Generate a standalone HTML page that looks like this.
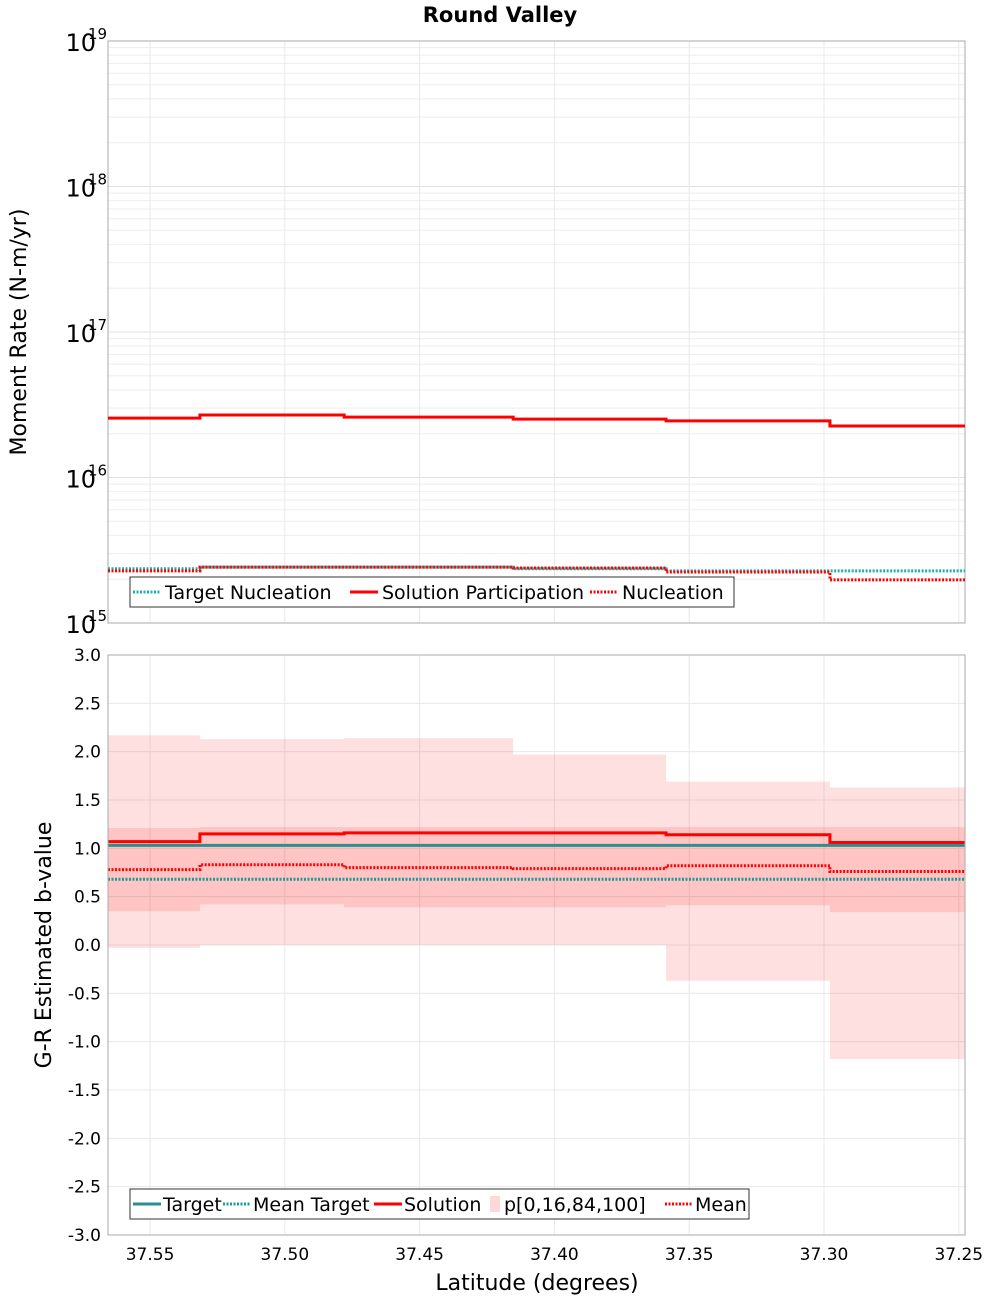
<!DOCTYPE html>
<html><head><meta charset="utf-8"><style>
body{margin:0;background:#fff;font-family:"Liberation Sans","DejaVu Sans",sans-serif}
svg text{font-family:"DejaVu Sans","Liberation Sans",sans-serif}
</style></head><body>
<svg id="c" width="1000" height="1300" xmlns="http://www.w3.org/2000/svg">
<text x="500" y="22" text-anchor="middle" font-size="21" font-weight="bold">Round Valley</text>
<g id="topPanel"></g>
<g id="botPanel"></g>
</svg>
<script>
const binEdges=[37.5656,37.5315,37.478,37.4153,37.3586,37.2978,37.2477];
const xTicks=[37.55,37.50,37.45,37.40,37.35,37.30,37.25];
const solPart=[2.56e16,2.69e16,2.6e16,2.52e16,2.45e16,2.26e16];
const nucl=[2.28e15,2.42e15,2.42e15,2.39e15,2.24e15,1.98e15];
const targetNucl=[2.36e15,2.42e15,2.42e15,2.36e15,2.28e15,2.28e15];
const pMin=[-0.03,0.0,0.0,0.0,-0.37,-1.18];
const p16=[0.35,0.42,0.39,0.39,0.41,0.34];
const p84=[1.21,1.22,1.22,1.22,1.22,1.22];
const pMax=[2.17,2.13,2.14,1.97,1.69,1.63];
const solB=[1.07,1.15,1.16,1.16,1.14,1.06];
const meanB=[0.78,0.83,0.80,0.79,0.82,0.76];
const targetB=[1.03,1.03,1.03,1.03,1.03,1.03];
const meanTargetB=[0.68,0.68,0.68,0.68,0.68,0.68];
const bTicks=[3.0,2.5,2.0,1.5,1.0,0.5,0.0,-0.5,-1.0,-1.5,-2.0,-2.5,-3.0];

const NS="http://www.w3.org/2000/svg";
const L=108,R=965;
const X=v=>L+(37.5656-v)/(37.5656-37.2477)*(R-L);
const T0=41,T1=623,YT=v=>T1-(Math.log10(v)-15)/4*(T1-T0);
const B0=655,B1=1235,YB=v=>B0+(3-v)/6*(B1-B0);
function mk(p,tag,a,txt){const e=document.createElementNS(NS,tag);for(const k in a)e.setAttribute(k,a[k]);if(txt!==undefined)e.textContent=txt;p.appendChild(e);return e;}
const gTop=document.getElementById('topPanel'),gBot=document.getElementById('botPanel');
function step(g,vals,Y,color,w,dash,name){
  let d='';for(let i=0;i<vals.length;i++){const y=Y(vals[i]);d+=(i?'L':'M')+X(binEdges[i])+','+y+'L'+X(binEdges[i+1])+','+y;}
  const p=mk(g,'path',{d:d,fill:'none',stroke:color,'stroke-width':w});
  if(dash)p.setAttribute('stroke-dasharray',dash);
  
  
}
for(let e=15;e<19;e++)for(let m=2;m<10;m++){const y=YT(m*Math.pow(10,e));mk(gTop,'line',{x1:L,x2:R,y1:y,y2:y,stroke:'#eee','stroke-width':1});}
for(let e=15;e<=19;e++){const y=YT(Math.pow(10,e));mk(gTop,'line',{x1:L,x2:R,y1:y,y2:y,stroke:'#e0e0e0','stroke-width':1});
  const t=mk(gTop,'text',{x:96,y:y+10,'text-anchor':'end','font-size':24},'10');
  
  
  mk(gTop,'text',{x:88,y:y-2,'font-size':15},String(e));}
xTicks.forEach(v=>{mk(gTop,'line',{x1:X(v),x2:X(v),y1:T0,y2:T1,stroke:'#e8e8e8'});mk(gBot,'line',{x1:X(v),x2:X(v),y1:B0,y2:B1,stroke:'#e8e8e8'});});
mk(gTop,'rect',{x:L,y:T0,width:R-L,height:T1-T0,fill:'none',stroke:'#aaa'});
const yl=mk(gTop,'text',{x:26,y:332,'text-anchor':'middle','font-size':22,transform:'rotate(-90 26 332)'},'Moment Rate (N-m/yr)');


step(gTop,targetNucl,YT,'#19b2b2',3,'2,1.5','series-target-nucleation');
step(gTop,solPart,YT,'#f00',3,null,'series-solution-participation');
step(gTop,nucl,YT,'#f00',3,'2,1.5','series-nucleation');
const lg=mk(gTop,'g',{});


mk(lg,'rect',{x:130,y:577,width:604,height:30,fill:'#fff',stroke:'#333'});
[[133,'#19b2b2','2,1.5','Target Nucleation'],[350,'#f00',null,'Solution Participation'],[590,'#f00','2,1.5','Nucleation']].forEach(([x,c,d,t])=>{
  const l=mk(lg,'line',{x1:x,x2:x+28,y1:592,y2:592,stroke:c,'stroke-width':3});if(d)l.setAttribute('stroke-dasharray',d);
  const tx=mk(lg,'text',{x:x+32,y:599,'font-size':19},t);
  
  });
bTicks.forEach(v=>{const y=YB(v);mk(gBot,'line',{x1:L,x2:R,y1:y,y2:y,stroke:'#e8e8e8'});
  const t=mk(gBot,'text',{x:101,y:y+6,'text-anchor':'end','font-size':17},v.toFixed(1));
  
  });
for(let i=0;i<pMax.length;i++){const x1=X(binEdges[i]),x2=X(binEdges[i+1]);
  const r=mk(gBot,'rect',{x:x1,y:YB(pMax[i]),width:x2-x1,height:YB(pMin[i])-YB(pMax[i]),fill:'rgba(255,0,0,0.12)'});
  
  
  const r2=mk(gBot,'rect',{x:x1,y:YB(p84[i]),width:x2-x1,height:YB(p16[i])-YB(p84[i]),fill:'rgba(255,0,0,0.12)'});
  
  }
step(gBot,meanTargetB,YB,'#1a9a9a',3,'2,1.5','series-mean-target');
step(gBot,meanB,YB,'#f00',3,'2,1.5','series-mean');
step(gBot,solB,YB,'#f00',3,null,'series-solution');
step(gBot,targetB,YB,'#2a8f8f',3,null,'series-target');
mk(gBot,'rect',{x:L,y:B0,width:R-L,height:B1-B0,fill:'none',stroke:'#aaa'});
xTicks.forEach(v=>{const t=mk(gBot,'text',{x:X(v),y:1260,'text-anchor':'middle','font-size':17},v.toFixed(2));
  
  });
const xt=mk(gBot,'text',{x:537,y:1290,'text-anchor':'middle','font-size':22},'Latitude (degrees)');


const yb=mk(gBot,'text',{x:51,y:945,'text-anchor':'middle','font-size':22,transform:'rotate(-90 51 945)'},'G-R Estimated b-value');


const lb=mk(gBot,'g',{});


mk(lb,'rect',{x:130,y:1189,width:619,height:30,fill:'#fff',stroke:'#333'});
[[133,'#2a8f8f',null,'Target',0],[223,'#1a9a9a','2,1.5','Mean Target',0],[374,'#f00',null,'Solution',0],[490,'rgba(255,0,0,0.15)',null,'p[0,16,84,100]',1],[665,'#f00','2,1.5','Mean',0]].forEach(([x,c,d,t,box])=>{
  if(box)mk(lb,'rect',{x:x,y:1196,width:10,height:16,fill:c});
  else{const l=mk(lb,'line',{x1:x,x2:x+28,y1:1204,y2:1204,stroke:c,'stroke-width':3});if(d)l.setAttribute('stroke-dasharray',d);}
  const tx=mk(lb,'text',{x:x+(box?14:30),y:1211,'font-size':19},t);
  
  });
</script>
</body></html>
